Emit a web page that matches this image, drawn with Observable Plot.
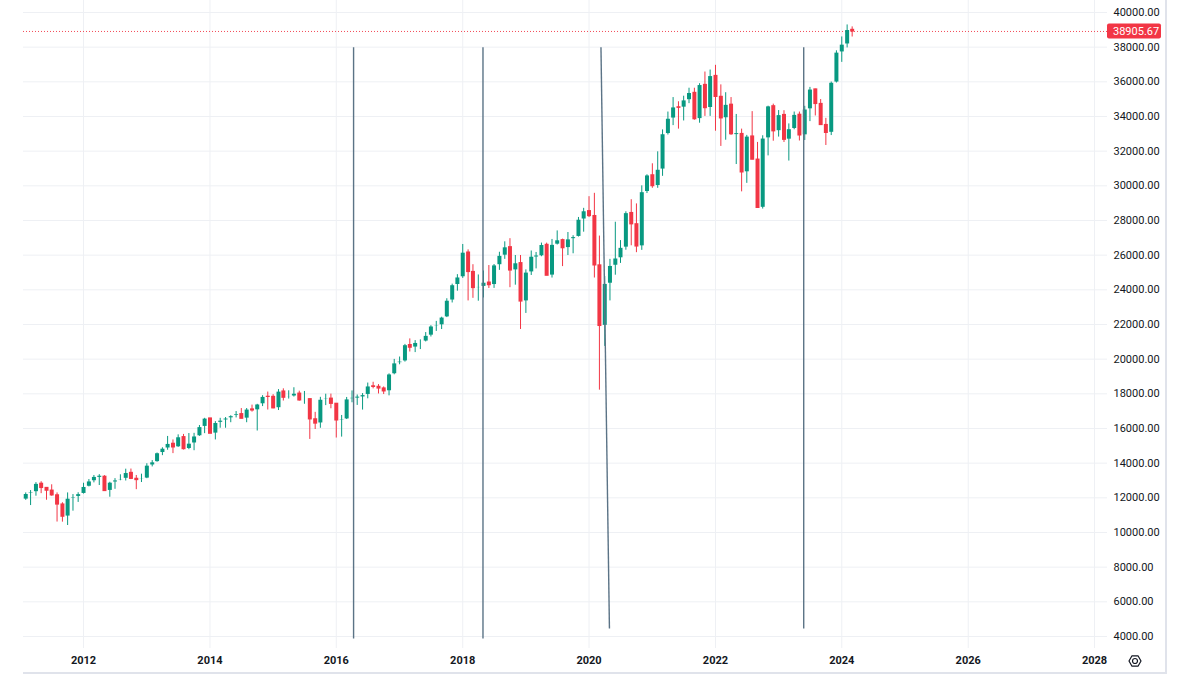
<!DOCTYPE html>
<html>
<head>
<meta charset="utf-8">
<script src="https://cdn.jsdelivr.net/npm/d3@7"></script>
<script src="https://cdn.jsdelivr.net/npm/@observablehq/plot@0.6"></script>
<style>
  html, body { margin: 0; padding: 0; background: #ffffff; }
  #chart svg { display: block; }
</style>
</head>
<body>
<div id="chart"></div>
<script>
// ---- Monthly candles, Jan 2011 .. Mar 2024 ----
const firstMonth = "2011-01-01";
const endMonth = "2024-04-01";

const opens = [
  11577, 11892, 12226, 12320, 12811, 12570, 12414, 12143, 11614, 10913, 11955, 12046, // 2011
  12218, 12633, 12952, 13212, 13214, 12393, 12880, 13009, 13091, 13437, 13096, 13026, // 2012
  13104, 13861, 14054, 14579, 14840, 15116, 14910, 15500, 14810, 15130, 15546, 16086, // 2013
  16577, 15699, 16322, 16458, 16581, 16717, 16827, 16563, 17098, 17043, 17391, 17828, // 2014
  17823, 17165, 18133, 17776, 17841, 18011, 17620, 17690, 16528, 16285, 17664, 17720, // 2015
  17425, 16466, 16517, 17685, 17774, 17787, 17930, 18432, 18401, 18308, 18142, 19124, // 2016
  19763, 19864, 20812, 20663, 20941, 21009, 21350, 21891, 21948, 22405, 23377, 24272, // 2017
  24719, 26149, 25029, 24103, 24163, 24416, 24271, 25415, 25965, 26458, 25116, 25538, // 2018
  23327, 24999, 25916, 25929, 26593, 24815, 26600, 26864, 26403, 26917, 27046, 28051, // 2019
  28538, 28256, 25409, 21917, 24346, 25383, 25813, 26428, 28430, 27782, 26502, 29639, // 2020
  30606, 29983, 30932, 32982, 33875, 34529, 34503, 34935, 35361, 33844, 35820, 34484, // 2021
  36338, 35132, 33893, 34678, 32977, 32990, 30775, 32845, 31510, 28726, 32733, 34590, // 2022
  33147, 34086, 32657, 33274, 34098, 32908, 34408, 35560, 34722, 33508, 33053, 35951, // 2023
  37690, 38150, 38996                                                                 // 2024
];
const highs = [
  11980, 12284, 12419, 12876, 12929, 12580, 12753, 12284, 11717, 12284, 12188, 12294,
  12842, 13055, 13290, 13338, 13280, 12899, 13108, 13330, 13653, 13661, 13290, 13365,
  13969, 14149, 14585, 14888, 15542, 15340, 15634, 15658, 15709, 15721, 16174, 16588,
  16588, 16398, 16588, 16632, 16735, 16978, 17151, 17153, 17350, 17395, 17894, 18103,
  17951, 18244, 18289, 18175, 18351, 18154, 18137, 17712, 16933, 17799, 17978, 17985,
  17440, 16752, 17791, 18168, 17934, 18016, 18622, 18668, 18534, 18399, 19152, 19987,
  20125, 20851, 21169, 21071, 21113, 21535, 21930, 22180, 22420, 23485, 24328, 24876,
  26617, 26306, 25449, 24858, 25087, 25402, 25461, 26168, 26770, 26951, 25980, 25980,
  25150, 26241, 26156, 26696, 26695, 26907, 27399, 26925, 27307, 27122, 28175, 28702,
  29374, 29568, 27102, 24765, 25758, 27900, 26841, 28502, 29199, 28958, 30000, 30637,
  31272, 31962, 33227, 34257, 35092, 34849, 35171, 35632, 35631, 35892, 36566, 36680,
  36952, 35825, 35372, 35093, 34118, 33272, 32910, 34281, 32505, 32889, 34595, 34712,
  34342, 34335, 33572, 34257, 34257, 34588, 35679, 35579, 34977, 33893, 35987, 37790,
  38589, 39282, 39170
];
const lows = [
  11535, 11856, 11555, 12093, 12241, 11862, 12093, 10604, 10597, 10404, 11231, 11735,
  12218, 12630, 12864, 12710, 12392, 12035, 12492, 12986, 12971, 13052, 12471, 12883,
  13104, 13784, 14054, 14434, 14746, 14551, 14910, 14760, 14777, 14719, 15546, 15703,
  15699, 15341, 16016, 16015, 16334, 16611, 16563, 16333, 16945, 15855, 17264, 17067,
  17136, 17037, 17585, 17699, 17814, 17576, 17399, 15370, 15942, 16013, 17320, 17138,
  15450, 15503, 16517, 17484, 17332, 17063, 17713, 18288, 17992, 17959, 17884, 19099,
  19677, 19831, 20413, 20379, 20554, 20994, 21279, 21601, 21709, 22399, 23242, 23922,
  24660, 23360, 23509, 23344, 23531, 24078, 24084, 25123, 25758, 24123, 24268, 21713,
  22639, 24828, 25208, 25910, 24815, 24680, 26587, 25340, 25979, 26079, 27046, 27326,
  28170, 24681, 18213, 20735, 23361, 24844, 25524, 26286, 26541, 26143, 26277, 29555,
  29857, 29856, 30548, 32931, 33474, 33272, 33742, 34741, 33785, 33613, 34006, 34007,
  33150, 32273, 32632, 32913, 31228, 29653, 30143, 31500, 28715, 28660, 31727, 32573,
  32812, 32500, 31429, 33235, 32586, 32616, 33705, 34030, 33481, 32327, 32900, 35932,
  37123, 37957, 38586
];
const closes = [
  11892, 12226, 12320, 12811, 12570, 12414, 12143, 11614, 10913, 11955, 12046, 12218,
  12633, 12952, 13212, 13214, 12393, 12880, 13009, 13091, 13437, 13096, 13026, 13104,
  13861, 14054, 14579, 14840, 15116, 14910, 15500, 14810, 15130, 15546, 16086, 16577,
  15699, 16322, 16458, 16581, 16717, 16827, 16563, 17098, 17043, 17391, 17828, 17823,
  17165, 18133, 17776, 17841, 18011, 17620, 17690, 16528, 16285, 17664, 17720, 17425,
  16466, 16517, 17685, 17774, 17787, 17930, 18432, 18401, 18308, 18142, 19124, 19763,
  19864, 20812, 20663, 20941, 21009, 21350, 21891, 21948, 22405, 23377, 24272, 24719,
  26149, 25029, 24103, 24163, 24416, 24271, 25415, 25965, 26458, 25116, 25538, 23327,
  24999, 25916, 25929, 26593, 24815, 26600, 26864, 26403, 26917, 27046, 28051, 28538,
  28256, 25409, 21917, 24346, 25383, 25813, 26428, 28430, 27782, 26502, 29639, 30606,
  29983, 30932, 32982, 33875, 34529, 34503, 34935, 35361, 33844, 35820, 34484, 36338,
  35132, 33893, 34678, 32977, 32990, 30775, 32845, 31510, 28726, 32733, 34590, 33147,
  34086, 32657, 33274, 34098, 32908, 34408, 35560, 34722, 33508, 33053, 35951, 37690,
  38150, 38996, 38905.67
];
const lastPrice = 38905.67;

// ---- Drawn vertical trend lines (date / price endpoints) ----
const lineStartDates = ["2016-04-10", "2018-04-28", "2020-03-10", "2023-05-26"];
const lineEndDates   = ["2016-04-10", "2018-04-28", "2020-04-28", "2023-05-26"];
const lineTopPrices    = [38000, 38000, 38000, 38000];
const lineBottomPrices = [3880, 3880, 4460, 4460];

// ---- Axis tick labels ----
const yTicks = [4000, 6000, 8000, 10000, 12000, 14000, 16000, 18000, 20000, 22000,
                24000, 26000, 28000, 30000, 32000, 34000, 36000, 38000, 40000];
const yearTicks = ["2012", "2014", "2016", "2018", "2020", "2022", "2024", "2026", "2028"];

// ---- Build tables ----
const months = d3.utcMonth.range(new Date(firstMonth), new Date(endMonth));
const candles = months.map((date, i) => ({date, o: opens[i], h: highs[i], l: lows[i], c: closes[i]}));
const drawings = lineStartDates.map((d, i) => ({
  x1: new Date(d), x2: new Date(lineEndDates[i]), y1: lineTopPrices[i], y2: lineBottomPrices[i]
}));
const xTicks = yearTicks.map(y => new Date(y + "-01-01"));

const UP = "#089981", DOWN = "#f23645";
const GRID = "#eef0f4";
const TEXT = "#131722";
const FONT = "Roboto, 'Noto Sans', sans-serif";
const col = d => d.c >= d.o ? UP : DOWN;

const chart = Plot.plot({
  width: 1200,
  height: 675,
  marginLeft: 23,
  marginRight: 93,
  marginTop: 0,
  marginBottom: 27,
  style: {fontFamily: FONT, fontSize: "11px", color: TEXT, background: "#ffffff", overflow: "visible"},
  x: {type: "utc", domain: [new Date("2011-01-19"), new Date("2028-03-16")], axis: null},
  y: {domain: [3308, 40692], axis: null},
  color: {type: "identity"},
  marks: [
    Plot.gridY(yTicks, {stroke: GRID, strokeOpacity: 1}),
    Plot.gridX(xTicks, {stroke: GRID, strokeOpacity: 1}),
    Plot.axisY(yTicks, {anchor: "right", tickSize: 0, tickPadding: 6, textAnchor: "start",
                        tickFormat: d => d.toFixed(2), fill: TEXT}),
    Plot.axisX(xTicks, {anchor: "bottom", tickSize: 0, tickPadding: 8,
                        tickFormat: d => String(d.getUTCFullYear()), fill: TEXT, fontWeight: "bold"}),
    Plot.ruleY([lastPrice], {stroke: DOWN, strokeOpacity: 0.9, strokeDasharray: "1,2", strokeWidth: 1}),
    Plot.ruleX(candles, {x: "date", y1: "l", y2: "h", stroke: col, strokeWidth: 1, clip: true}),
    Plot.ruleX(candles, {x: "date", y1: "o", y2: "c", stroke: col, strokeWidth: 4,
                         insetTop: -0.6, insetBottom: -0.6, clip: true}),
    Plot.link(drawings, {x1: "x1", y1: "y1", x2: "x2", y2: "y2", stroke: "#5b7386", strokeWidth: 1.4})
  ]
});

document.getElementById("chart").appendChild(chart);

// ---- Decorations: last price tag, frame, settings icon ----
const svg = d3.select(chart);
const yS = chart.scale("y");
const yy = yS.apply(lastPrice);
const tag = svg.append("g");
tag.append("rect").attr("x", 1107).attr("y", yy - 7.5).attr("width", 54).attr("height", 15)
  .attr("rx", 2).attr("fill", DOWN);
tag.append("text").attr("x", 1113).attr("y", yy).attr("dy", "0.35em")
  .attr("text-anchor", "start")
  .attr("fill", "#ffffff").attr("font-size", 11).attr("font-family", FONT)
  .text(lastPrice.toFixed(2));

svg.append("line").attr("x1", 23).attr("x2", 1166).attr("y1", 673).attr("y2", 673)
  .attr("stroke", "#e0e3eb").attr("stroke-width", 2);
svg.append("line").attr("x1", 1166).attr("x2", 1166).attr("y1", 0).attr("y2", 674)
  .attr("stroke", "#e0e3eb").attr("stroke-width", 2);

const gear = svg.append("g").attr("transform", "translate(1135,661)");
const hex = d3.range(6).map(k => {
  const a = Math.PI / 3 * k;
  return [6 * Math.cos(a), 6 * Math.sin(a)];
});
gear.append("path").attr("d", "M" + hex.map(p => p.join(",")).join("L") + "Z")
  .attr("fill", "none").attr("stroke", TEXT).attr("stroke-width", 1.2).attr("stroke-linejoin", "round");
gear.append("circle").attr("r", 2.5).attr("fill", "none").attr("stroke", TEXT).attr("stroke-width", 1.2);
</script>
</body>
</html>
